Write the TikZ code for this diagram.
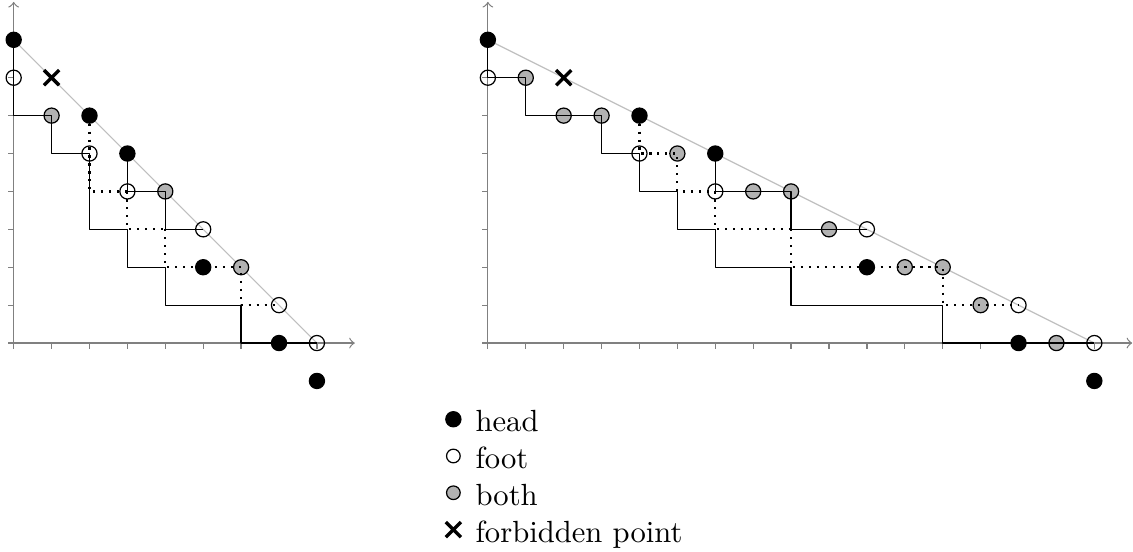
\documentclass[tikz,border=0pt]{standalone}
\begin{document}
\begin{tikzpicture}[x=4.35mm,y=4.35mm,>=to,line join=round,
    headpt/.style={draw=black,fill=black},
    footpt/.style={draw=black},
    bothpt/.style={draw=black,fill=gray!60},
    forbid/.style={line width=1.1pt},
    lpath/.style={black},
    shortcut/.style={black,line width=.7pt,dash pattern=on .7pt off 1.9pt}]
    \useasboundingbox (-0.361,-5.51) rectangle (29.53,9.05);
    % left picture, n = 8
    \def\n{8}
    \draw[gray,->] (0,0)--(\n+1,0);
    \draw[gray,->] (0,0)--(0,9);
    \foreach \i in {0,...,\n} \draw[gray] (\i,0)--(\i,-.15);
    \foreach \j in {0,...,8} \draw[gray] (0,\j)--(-.15,\j);
    \draw[gray!50] (0,8)--(\n,0);
    \foreach \p in {(0,8),(2,6),(3,5),(5,2),(7,0),(8,-1)} \draw[headpt] \p circle (.2);
    \foreach \p in {(0,7),(2,5),(3,4),(5,3),(7,1),(8,0)} \draw[footpt] \p circle (.2);
    \foreach \p in {(1,6),(4,4),(6,2)} \draw[bothpt] \p circle (.2);
    \draw[forbid,shift={(1,7)}] (-.2,-.2)--(.2,.2) (-.2,.2)--(.2,-.2);
    \draw[lpath] (0,8)--(0,6)--(1,6)--(1,5)--(2,5)--(2,3)--(3,3)--(3,2)--(4,2)--(4,1)--(6,1)--(6,0)--(8,0);
    \draw[lpath] (3,5)--(3,4)--(4,4)--(4,3)--(5,3);
    \draw[shortcut] (2,6)--(2,4)--(3,4);
    \draw[shortcut] (3,4)--(3,3)--(4,3);
    \draw[shortcut] (4,3)--(4,2)--(6,2)--(6,1)--(7,1);
    % right picture, n = 16
    \begin{scope}[xshift=12.51*4.35mm]
    \def\n{16}
    \draw[gray,->] (0,0)--(\n+1,0);
    \draw[gray,->] (0,0)--(0,9);
    \foreach \i in {0,...,\n} \draw[gray] (\i,0)--(\i,-.15);
    \foreach \j in {0,...,8} \draw[gray] (0,\j)--(-.15,\j);
    \draw[gray!50] (0,8)--(\n,0);
    \foreach \p in {(0,8),(4,6),(6,5),(10,2),(14,0),(16,-1)} \draw[headpt] \p circle (.2);
    \foreach \p in {(0,7),(4,5),(6,4),(10,3),(14,1),(16,0)} \draw[footpt] \p circle (.2);
    \foreach \p in {(1,7),(2,6),(3,6),(5,5),(7,4),(8,4),(9,3),(11,2),(12,2),(13,1),(15,0)} \draw[bothpt] \p circle (.2);
    \draw[forbid,shift={(2,7)}] (-.2,-.2)--(.2,.2) (-.2,.2)--(.2,-.2);
    \draw[lpath] (0,8)--(0,7)--(1,7)--(1,6)--(3,6)--(3,5)--(4,5)--(4,4)--(5,4)--(5,3)--(6,3)--(6,2)--(8,2)--(8,1)--(12,1)--(12,0)--(16,0);
    \draw[lpath] (6,5)--(6,4)--(8,4)--(8,3)--(10,3);
    \draw[shortcut] (4,6)--(4,5)--(5,5)--(5,4)--(6,4);
    \draw[shortcut] (6,4)--(6,3)--(8,3);
    \draw[shortcut] (8,3)--(8,2)--(12,2)--(12,1)--(14,1);
    \end{scope}
    % legend
    \draw[headpt] (11.6,-2.01) circle (.2);
    \draw[footpt] (11.6,-2.98) circle (.18);
    \draw[bothpt] (11.6,-3.95) circle (.18);
    \draw[forbid,shift={(11.6,-4.92)}] (-.2,-.2)--(.2,.2) (-.2,.2)--(.2,-.2);
    \node[anchor=base west,inner sep=0] (lhead) at (12.17,-2.34) {head};
    \node[anchor=base west,inner sep=0] (lfoot) at (12.17,-3.31) {foot};
    \node[anchor=base west,inner sep=0] (lboth) at (12.17,-4.28) {both};
    \node[anchor=base west,inner sep=0] (lforbid) at (12.17,-5.25) {forbidden point};
\end{tikzpicture}
\end{document}
